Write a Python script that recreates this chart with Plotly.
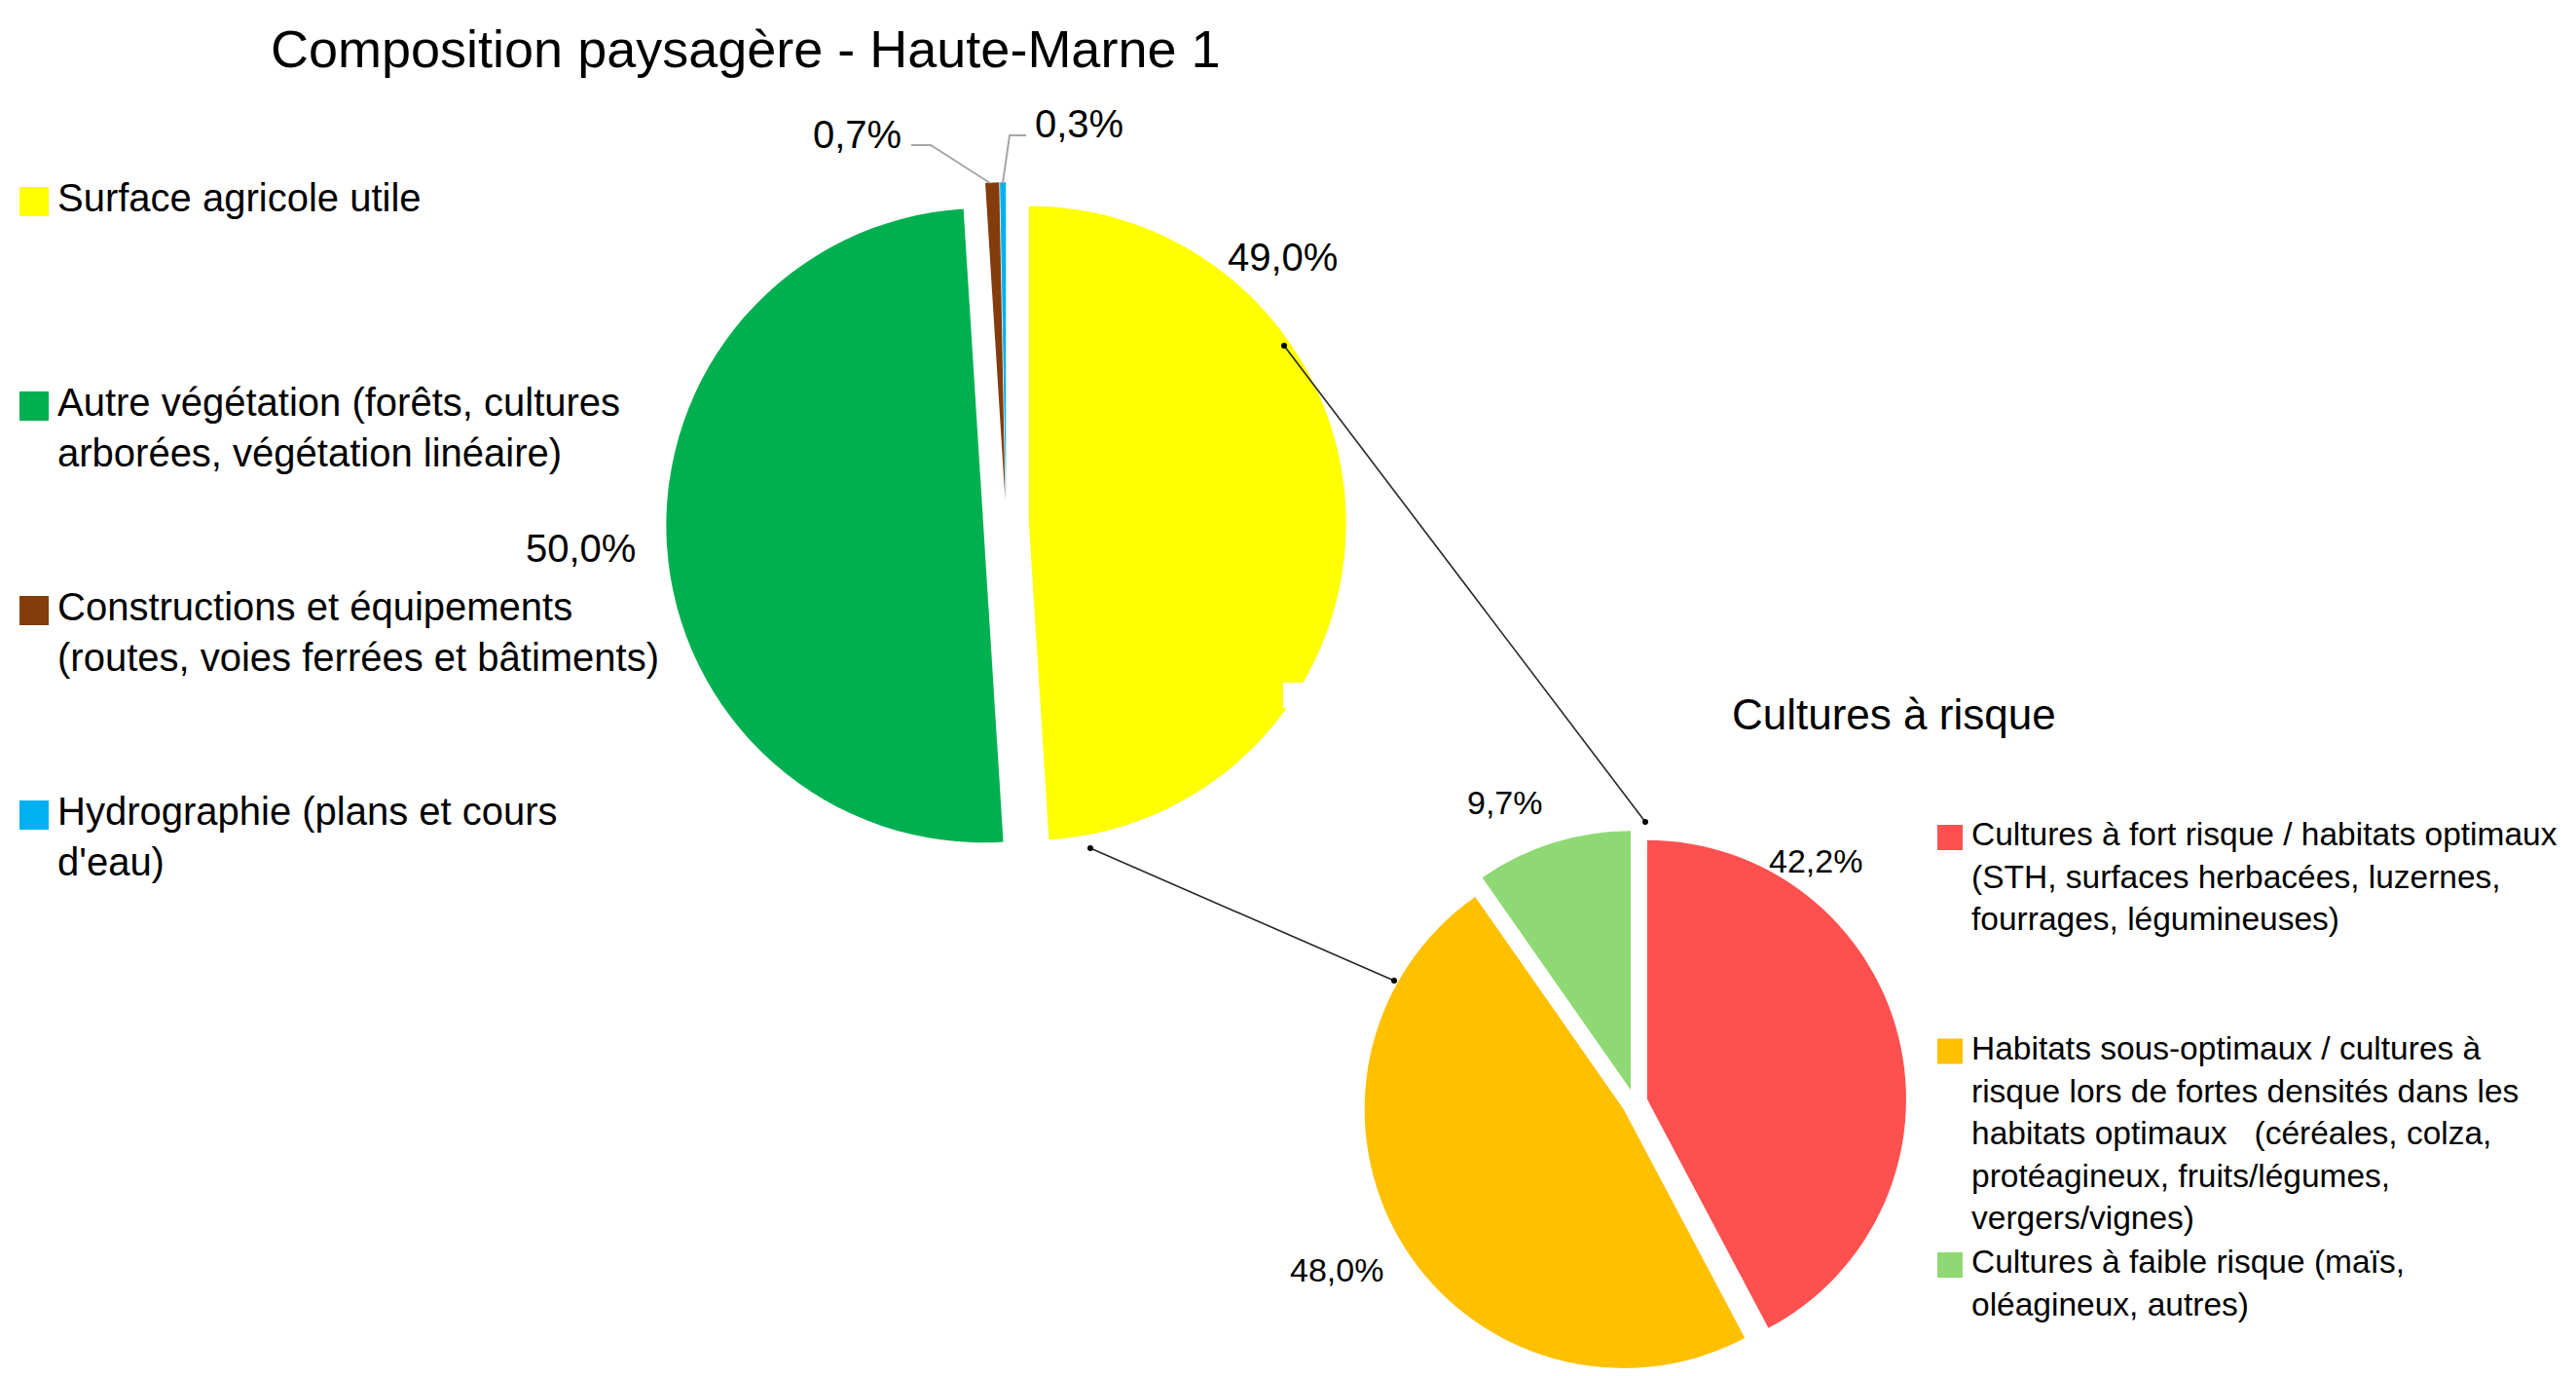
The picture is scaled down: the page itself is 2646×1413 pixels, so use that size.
import plotly.graph_objects as go

W, H = 2646, 1413
OFF = 8  # the page body has an 8px margin
FONT = "Liberation Sans, Arial, sans-serif"

# --- data -------------------------------------------------------------
main_title = "Composition paysagère - Haute-Marne 1"
main_labels = [
    "Surface agricole utile",
    "Autre végétation (forêts, cultures<br>arborées, végétation linéaire)",
    "Constructions et équipements<br>(routes, voies ferrées et bâtiments)",
    "Hydrographie (plans et cours<br>d'eau)",
]
main_values = [49.0, 50.0, 0.7, 0.3]
main_colors = ["#FFFF00", "#00B050", "#843C0C", "#00B0F0"]

risk_title = "Cultures à risque"
risk_labels = [
    "Cultures à fort risque / habitats optimaux<br>(STH, surfaces herbacées, luzernes,<br>fourrages, légumineuses)",
    "Habitats sous-optimaux / cultures à<br>risque lors de fortes densités dans les<br>habitats optimaux\u00a0\u00a0 (céréales, colza,<br>protéagineux, fruits/légumes,<br>vergers/vignes)",
    "Cultures à faible risque (maïs,<br>oléagineux, autres)",
]
risk_values = [42.2, 48.0, 9.7]
risk_colors = ["#FF5050", "#FFC000", "#8ED973"]


def fx(x):
    return (x - OFF) / W


def fy(y):
    return 1 - (y - OFF) / H


def pct(v):
    return f"{v:.1f}".replace(".", ",") + "%"


def text_ann(text, x, y, size, **kw):
    d = dict(text=text, x=fx(x), y=fy(y), xref="paper", yref="paper",
             xanchor="center", yanchor="middle", showarrow=False,
             font=dict(size=size, color="#000000", family=FONT))
    d.update(kw)
    return d


fig = go.Figure()

fig.add_trace(go.Pie(
    labels=[l.replace("<br>", " ") for l in main_labels],
    values=main_values,
    marker=dict(colors=main_colors, line=dict(width=0)),
    sort=False,
    direction="clockwise",
    rotation=0,
    pull=[0.072, 0.072, 0.077, 0.077],
    textinfo="none",
    hoverinfo="label+percent",
    showlegend=False,
    domain=dict(x=[fx(682.7), fx(1384.3)], y=[fy(888.8), fy(187.2)]),
))

fig.add_trace(go.Pie(
    labels=[l.replace("<br>", " ") for l in risk_labels],
    values=risk_values,
    marker=dict(colors=risk_colors, line=dict(width=0)),
    sort=False,
    direction="clockwise",
    rotation=0,
    pull=0.05,
    textinfo="none",
    hoverinfo="label+percent",
    showlegend=False,
    domain=dict(x=[fx(1399.7), fx(1958.3)], y=[fy(1411.3), fy(852.7)]),
))

annotations = []
shapes = []

# titles
annotations.append(text_ann(main_title, 765, 50, 54))
annotations.append(text_ann(risk_title, 1945, 733, 44))

# percentage labels
main_label_pos = [(1317, 264), (596, 563), (881, 138), (1108, 127)]
for v, (x, y) in zip(main_values, main_label_pos):
    annotations.append(text_ann(pct(v), x, y, 40))

risk_label_pos = [(1865, 884), (1373, 1304), (1546, 824)]
for v, (x, y) in zip(risk_values, risk_label_pos):
    annotations.append(text_ann(pct(v), x, y, 34))

# leader lines for the small slices
for pts in [[(936, 149), (956, 149), (1017, 188)], [(1054, 139), (1037, 139), (1030, 188)]]:
    path = "M " + " L ".join(f"{fx(x)},{fy(y)}" for x, y in pts)
    shapes.append(dict(type="path", path=path, xref="paper", yref="paper",
                       line=dict(color="#A6A6A6", width=2)))

# connector lines between the two pies
for (x0, y0), (x1, y1) in [((1319, 355), (1690, 844)), ((1120, 871), (1432, 1007))]:
    shapes.append(dict(type="line", x0=fx(x0), y0=fy(y0), x1=fx(x1), y1=fy(y1),
                       xref="paper", yref="paper", line=dict(color="#262626", width=1.6)))
    for x, y in [(x0, y0), (x1, y1)]:
        shapes.append(dict(type="circle", x0=fx(x - 3), x1=fx(x + 3), y0=fy(y + 3), y1=fy(y - 3),
                           xref="paper", yref="paper", fillcolor="#000000", line=dict(width=0)))

# small white notch in the yellow slice
shapes.append(dict(type="rect", x0=fx(1318), x1=fx(1345), y0=fy(727), y1=fy(701),
                   xref="paper", yref="paper", fillcolor="white", line=dict(width=0), layer="above"))


# legends (drawn by hand, Excel-like spacing)
def add_legend(labels, colors, x_box, box, x_text, y_first, step, size):
    for i, (lab, col) in enumerate(zip(labels, colors)):
        yc = y_first + step * i
        shapes.append(dict(type="rect", x0=fx(x_box), x1=fx(x_box + box),
                           y0=fy(yc + box / 2), y1=fy(yc - box / 2),
                           xref="paper", yref="paper", fillcolor=col, line=dict(width=0)))
        annotations.append(text_ann(lab, x_text, yc - size * 0.65 - 2, size,
                                    xanchor="left", yanchor="top", align="left"))


add_legend(main_labels, main_colors, 20, 30, 57, 207, 210, 40)
add_legend(risk_labels, risk_colors, 1990, 26, 2023, 860, 219.5, 33.5)

fig.update_layout(
    width=W,
    height=H,
    margin=dict(l=0, r=0, t=0, b=0),
    paper_bgcolor="white",
    plot_bgcolor="white",
    font=dict(family=FONT, color="#000000"),
    annotations=annotations,
    shapes=shapes,
)

fig.write_html("out.html")
